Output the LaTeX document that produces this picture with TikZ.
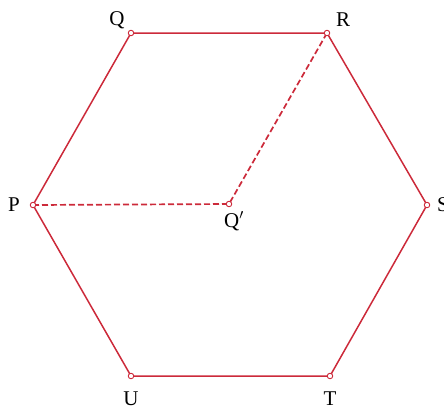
\documentclass[tikz,border=0pt]{standalone}
\usepackage{fontspec}
\setmainfont{Liberation Serif}
\definecolor{hexred}{HTML}{CC2A3A}
\begin{document}
\begin{tikzpicture}[x=1pt,y=-1pt,
  edge/.style={draw=hexred,line width=1.5pt},
  dashedge/.style={draw=hexred,line width=1.7pt,dash pattern=on 6pt off 3pt},
  vtx/.style={circle,draw=hexred,fill=white,line width=0.9pt,inner sep=0pt,minimum size=5.5pt},
  lbl/.style={font=\fontsize{21}{24}\selectfont,text=black,inner sep=0pt}]
\useasboundingbox (0,0) rectangle (444,405);
\coordinate (Q) at (131,33);
\coordinate (R) at (327,33);
\coordinate (S) at (427,205);
\coordinate (T) at (330,376);
\coordinate (U) at (131,376);
\coordinate (P) at (33,205);
\coordinate (Qp) at (229,204);
\draw[edge] (P) -- (Q) -- (R) -- (S) -- (T) -- (U) -- cycle;
\draw[dashedge] (P) -- (Qp) -- (R);
\foreach \v in {P,Q,R,S,T,U,Qp} \node[vtx] (n\v) at (\v) {};
\node[lbl] (lQ) at (117,20) {Q};
\node[lbl] (lR) at (343,20) {R};
\node[lbl] (lP) at (14,205) {P};
\node[lbl] (lQp) at (234,221) {Q$'$};
\node[lbl] (lS) at (443,205) {S};
\node[lbl] (lU) at (131,399) {U};
\node[lbl] (lT) at (330,399) {T};
\end{tikzpicture}
\end{document}
